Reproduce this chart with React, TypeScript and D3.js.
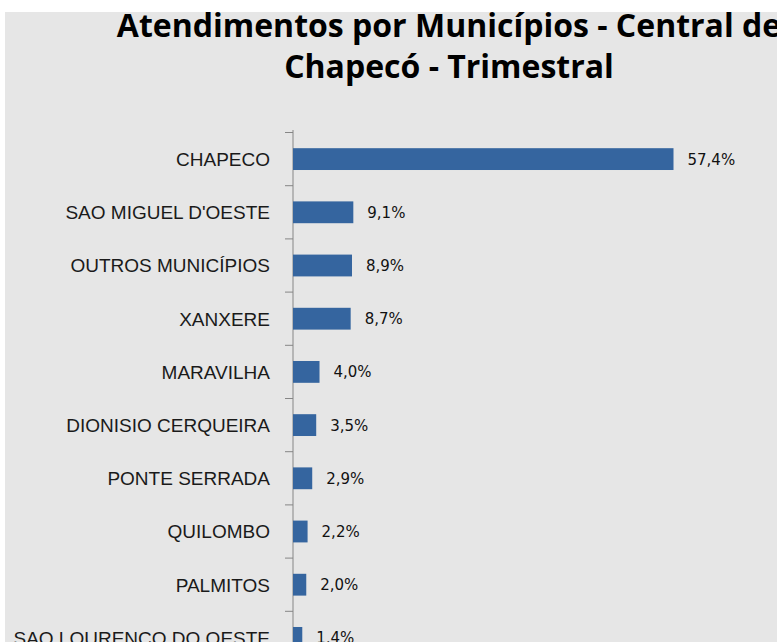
import React from "react";
import * as d3 from "d3";

const categories = [
  "CHAPECO",
  "SAO MIGUEL D'OESTE",
  "OUTROS MUNICÍPIOS",
  "XANXERE",
  "MARAVILHA",
  "DIONISIO CERQUEIRA",
  "PONTE SERRADA",
  "QUILOMBO",
  "PALMITOS",
  "SAO LOURENCO DO OESTE",
];
const values = [57.4, 9.1, 8.9, 8.7, 4.0, 3.5, 2.9, 2.2, 2.0, 1.4];
const titleLines = ["Atendimentos por Municípios - Central de", "Chapecó - Trimestral"];

export default function App() {
  const W = 777;
  const H = 700;
  const axisX = 293;
  const step = 53.2;
  const top = 132.5;
  const y = d3
    .scaleBand<string>()
    .domain(categories)
    .range([top, top + step * categories.length])
    .paddingInner(0.59)
    .paddingOuter(0.295);
  const x = d3.scaleLinear().domain([0, 57.4]).range([axisX, 673.5]);
  const fmt = (v: number) => v.toFixed(1).replace(".", ",") + "%";
  const boundaries = d3.range(categories.length + 1).map((i) => top + step * i);

  return (
    <svg
      width={W}
      height={H}
      style={{ display: "block", position: "absolute", left: 0, top: 0 }}
    >
      <rect x={0} y={0} width={W} height={H} fill="#ffffff" />
      <rect x={5} y={12} width={W} height={H} fill="#e6e6e6" />
      <g fontFamily="'Open Sans', sans-serif" fontWeight="bold" fontSize={32} textAnchor="middle" fill="#000">
        <text x={449} y={37}>{titleLines[0]}</text>
        <text x={449} y={78}>{titleLines[1]}</text>
      </g>
      <line x1={axisX} x2={axisX} y1={130} y2={H} stroke="#868686" strokeWidth={1} />
      {boundaries.map((b, i) => (
        <line key={i} x1={axisX - 8} x2={axisX} y1={b} y2={b} stroke="#868686" strokeWidth={1} />
      ))}
      {categories.map((c, i) => (
        <g key={c}>
          <rect
            x={axisX}
            y={y(c)!}
            width={x(values[i]) - axisX}
            height={y.bandwidth()}
            fill="#35659f"
          />
          <text
            x={270}
            y={y(c)! + y.bandwidth() / 2}
            dy="0.36em"
            textAnchor="end"
            fontFamily="'Liberation Sans', Arial, sans-serif"
            fontSize={19}
            fill="#1a1a1a"
          >
            {c}
          </text>
          <text
            x={x(values[i]) + 14}
            y={y(c)! + y.bandwidth() / 2}
            dy="0.36em"
            fontFamily="'DejaVu Sans', sans-serif"
            fontSize={15}
            fill="#111111"
          >
            {fmt(values[i])}
          </text>
        </g>
      ))}
    </svg>
  );
}
